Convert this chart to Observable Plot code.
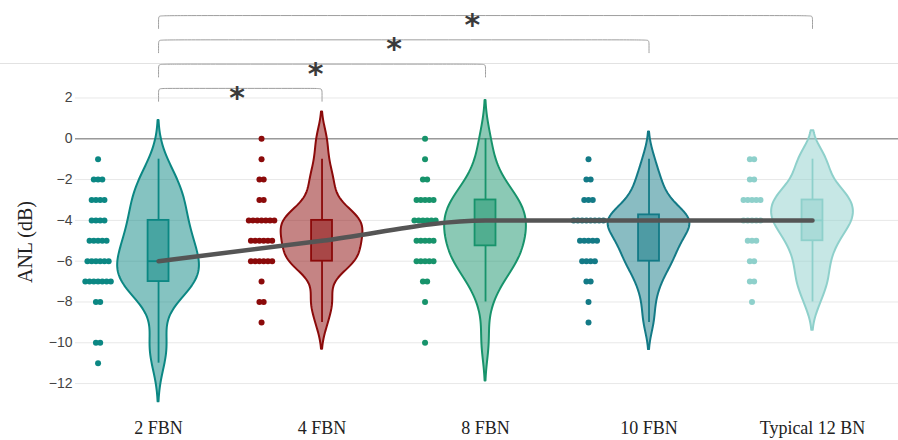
<!DOCTYPE html>
<html>
<head>
<meta charset="utf-8">
<script src="https://cdn.jsdelivr.net/npm/d3@7"></script>
<script src="https://cdn.jsdelivr.net/npm/@observablehq/plot@0.6"></script>
<style>
  html, body { margin: 0; padding: 0; background: #fff; }
  #chart svg { display: block; }
  g[aria-label="x-axis tick label"] text { font-family: "Liberation Serif", serif; font-size: 18px; fill: #222; }
  g[aria-label="y-axis label"] text { font-family: "Liberation Serif", serif; font-size: 20px; fill: #222; }
</style>
</head>
<body>
<div id="chart"></div>
<script>
// ---- data ----
const groups = ["2 FBN", "4 FBN", "8 FBN", "10 FBN", "Typical 12 BN"];
const colors = ["#0b8783", "#8b0a0a", "#17936b", "#137a86", "#8ed0cb"];

const anl2FBN = [-1, -2, -2, -2, -3, -3, -3, -3, -4, -4, -4, -4, -5, -5, -5, -5, -5,
  -6, -6, -6, -6, -6, -6, -7, -7, -7, -7, -7, -7, -7, -8, -8, -10, -10, -11];
const anl4FBN = [0, -1, -2, -2, -3, -3, -4, -4, -4, -4, -4, -4, -4, -5, -5, -5, -5, -5, -5,
  -6, -6, -6, -6, -6, -6, -7, -8, -8, -9];
const anl8FBN = [0, -1, -2, -2, -3, -3, -3, -3, -3, -4, -4, -4, -4, -4, -4, -5, -5, -5, -5, -5,
  -6, -6, -6, -6, -6, -7, -7, -8, -10];
const anl10FBN = [-1, -2, -2, -3, -3, -3, -4, -4, -4, -4, -4, -4, -4, -4, -5, -5, -5, -5, -5,
  -6, -6, -6, -6, -7, -7, -8, -9];
const anlTypical12BN = [-1, -1, -2, -2, -3, -3, -3, -3, -3, -4, -4, -4, -4, -4, -5, -5, -5,
  -6, -6, -7, -7, -8];

const boxHigh = [-4, -4, -3, -3.73, -3];
const boxLow = [-7, -6, -5.25, -6, -5];
const medians = [-6, -5, -4, -4, -4];
const whiskerHigh = [-1, -1, 0, -1, -1];
const whiskerLow = [-11, -9, -8, -9, -8];

const comparisons = [1, 2, 3, 4]; // each compared against "2 FBN"
const significance = ["*", "*", "*", "*"];

const yTicks = [-12, -10, -8, -6, -4, -2, 0, 2];

// ---- layout constants ----
const series = [anl2FBN, anl4FBN, anl8FBN, anl10FBN, anlTypical12BN];
const W = 898, H = 440, ML = 75;
const xDomain = [-0.508, 4.526];
const panelTop = 3.69;
const yDomain = [-13.81, panelTop];
const violinHalf = 0.25;
const boxHalf = 0.064;
const dotOffset = -0.37;
const dotStep = 0.026;
const bwScale = 0.82;

function kde(values) {
  const n = values.length;
  const sd = d3.deviation(values);
  const sorted = values.slice().sort(d3.ascending);
  const iqr = d3.quantileSorted(sorted, 0.75) - d3.quantileSorted(sorted, 0.25);
  const bw = bwScale * 1.059 * Math.min(sd, iqr / 1.349) * Math.pow(n, -0.2);
  const lo = d3.min(values) - 2 * bw, hi = d3.max(values) + 2 * bw;
  const steps = 160;
  const pts = [];
  for (let s = 0; s <= steps; s++) {
    const y = lo + (hi - lo) * s / steps;
    let dens = 0;
    for (const v of values) dens += Math.exp(-0.5 * ((y - v) / bw) ** 2);
    pts.push({y, dens});
  }
  const m = d3.max(pts, p => p.dens);
  return pts.map(p => ({y: p.y, w: violinHalf * p.dens / m}));
}

function dotLayout(values, i) {
  const counts = d3.rollup(values, v => v.length, v => v);
  const out = [];
  for (const [v, n] of counts) {
    for (let k = 0; k < n; k++) out.push({x: i + dotOffset + (k - (n - 1) / 2) * dotStep, v});
  }
  return out;
}

const groupMarks = groups.flatMap((g, i) => {
  const c = colors[i];
  const dens = kde(series[i]);
  return [
    Plot.areaX(dens, {y: "y", x1: d => i - d.w, x2: d => i + d.w, fill: c, fillOpacity: 0.5,
      stroke: c, strokeWidth: 2, curve: "linear"}),
    Plot.ruleX([i], {x: d => d, y1: () => whiskerHigh[i], y2: () => boxHigh[i], stroke: c, strokeWidth: 1.8}),
    Plot.ruleX([i], {x: d => d, y1: () => boxLow[i], y2: () => whiskerLow[i], stroke: c, strokeWidth: 1.8}),
    Plot.rect([i], {x1: d => d - boxHalf, x2: d => d + boxHalf, y1: () => boxLow[i], y2: () => boxHigh[i],
      fill: c, fillOpacity: 0.5, stroke: c, strokeWidth: 1.8}),
    Plot.ruleY([medians[i]], {x1: () => i - boxHalf, x2: () => i + boxHalf, y: d => d, stroke: c, strokeWidth: 1.8}),
    Plot.dot(dotLayout(series[i], i), {x: "x", y: "v", r: 3, fill: c, stroke: "none"})
  ];
});

const trend = medians.map((m, i) => ({i, m}));

const bracketBase = 2.47, bracketStep = 1.19, bracketDrop = 0.63, cornerY = 0.25, cornerX = 0.03;
const bracketLines = comparisons.map((b, k) => {
  const a = 0, L = bracketBase + k * bracketStep;
  return [
    [a, L - bracketDrop], [a, L - cornerY], [a, L], [a + cornerX, L],
    [b - cornerX, L], [b, L], [b, L - cornerY], [b, L - bracketDrop]
  ].map(([x, y]) => ({x, y, k}));
}).flat();
const stars = comparisons.map((b, k) => ({x: b * 0.48, y: bracketBase + k * bracketStep, s: significance[k]}));

const pxPerUnit = (W - ML) / (xDomain[1] - xDomain[0]);
const fullLeft = xDomain[0] - ML / pxPerUnit;

const chart = Plot.plot({
  width: W,
  height: H,
  marginLeft: ML,
  marginRight: 0,
  marginTop: 63,
  marginBottom: 20,
  style: {fontFamily: "'Liberation Sans', Arial, sans-serif", fontSize: "14px", color: "#444", background: "#fff", overflow: "visible"},
  x: {domain: xDomain, axis: null},
  y: {domain: yDomain, axis: null},
  marks: [
    Plot.gridY(yTicks, {stroke: "#e8e8e8", strokeOpacity: 1}),
    Plot.ruleY([panelTop], {x1: fullLeft, x2: xDomain[1], stroke: "#e2e2e2", strokeWidth: 1.2}),
    Plot.ruleY([0], {stroke: "#9a9a9a", strokeWidth: 1.5}),
    Plot.axisY(yTicks, {tickSize: 0, tickPadding: 3, label: "ANL (dB)", labelAnchor: "center", labelOffset: 58, labelArrow: "none"}),
    Plot.axisX(groups.map((g, i) => i), {tickSize: 0, tickPadding: 1, tickFormat: i => groups[i], label: null}),
    ...groupMarks,
    Plot.line(trend, {x: "i", y: "m", curve: "monotone-x", stroke: "#555", strokeWidth: 4.5}),
    Plot.line(bracketLines, {x: "x", y: "y", z: "k", curve: "basis", stroke: "#9e9e9e", strokeWidth: 1}),
    Plot.text(stars, {x: "x", y: "y", text: "s", fontSize: 30, fontWeight: "bold", fontFamily: "'DejaVu Sans', sans-serif", fill: "#3a3a3a", dy: 10})
  ]
});
document.getElementById("chart").appendChild(chart);
</script>
</body>
</html>
